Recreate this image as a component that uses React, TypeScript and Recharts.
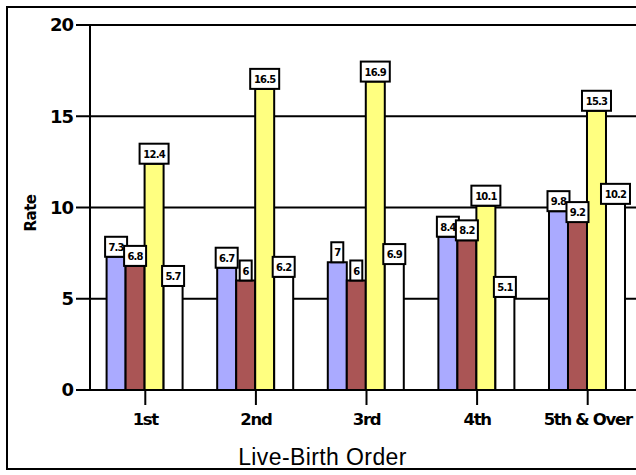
import React from "react";
import { BarChart, Bar, XAxis, YAxis, CartesianGrid, LabelList, Label } from "recharts";

const categories = ["1st", "2nd", "3rd", "4th", "5th & Over"];
const seriesA = [7.3, 6.7, 7, 8.4, 9.8];
const seriesB = [6.8, 6, 6, 8.2, 9.2];
const seriesC = [12.4, 16.5, 16.9, 10.1, 15.3];
const seriesD = [5.7, 6.2, 6.9, 5.1, 10.2];
const yTicks = [0, 5, 10, 15, 20];

const data = categories.map((order, i) => ({
  order,
  a: seriesA[i],
  b: seriesB[i],
  c: seriesC[i],
  d: seriesD[i],
}));

const FONT = "'Liberation Sans', Arial, sans-serif";
const HEAVY = "'DejaVu Sans', sans-serif";

// white boxed value tag sitting on top of each bar
const ValueTag = (props: any) => {
  const { x, y, width, value } = props;
  const text = String(value);
  const digits = text.replace(".", "").length;
  const w = digits * 7 + (text.includes(".") ? 3 : 0) + 5;
  const h = 20;
  const cx = x + width / 2;
  return (
    <g>
      <rect x={cx - w / 2} y={y - h} width={w} height={h} fill="#fff" stroke="#000" strokeWidth={2} />
      <text
        x={cx}
        y={y - h / 2 + 4}
        textAnchor="middle"
        fontFamily={HEAVY}
        fontWeight="bold"
        fontSize={10}
        letterSpacing={-0.8}
        fill="#000"
      >
        {text}
      </text>
    </g>
  );
};

const RateLabel = () => (
  <text
    x={31}
    y={213}
    transform="rotate(-90 31 213)"
    textAnchor="middle"
    dominantBaseline="central"
    fontFamily={HEAVY}
    fontWeight="bold"
    fontSize={15}
    letterSpacing={-0.5}
    fill="#000"
  >
    Rate
  </text>
);

const bars = [
  { key: "a", fill: "#AAAAFF" },
  { key: "b", fill: "#AA5555" },
  { key: "c", fill: "#FFFF80" },
  { key: "d", fill: "#FFFFFF" },
];

export default function App() {
  return (
    <div
      style={{
        position: "absolute",
        left: 0,
        top: 0,
        width: 636,
        height: 475,
        overflow: "hidden",
        background: "#fff",
      }}
    >
      <div
        style={{
          position: "absolute",
          left: 6,
          top: 6,
          width: 700,
          height: 460,
          border: "2px solid #000",
        }}
      />
      <div style={{ position: "absolute", left: 0, top: 0 }}>
        <BarChart
          width={643}
          height={475}
          data={data}
          margin={{ top: 25, right: 0, left: 0, bottom: 0 }}
          barCategoryGap="15%"
          barGap={0}
        >
          <CartesianGrid vertical={false} stroke="#000" strokeWidth={2} />
          <XAxis
            dataKey="order"
            height={85}
            axisLine={{ stroke: "#000", strokeWidth: 2 }}
            tickLine={{ stroke: "#000", strokeWidth: 2 }}
            tickSize={15}
            tickMargin={8}
            tick={{ fill: "#000", fontFamily: HEAVY, fontWeight: "bold", fontSize: 16.5, letterSpacing: -1.3 }}
            interval={0}
          >
            <Label
              value="Live-Birth Order"
              position="insideBottom"
              offset={10}
              dx={-44}
              style={{ fill: "#000", fontFamily: FONT, fontSize: 23, letterSpacing: 0.4 }}
            />
          </XAxis>
          <YAxis
            width={90}
            domain={[0, 20]}
            ticks={yTicks}
            axisLine={{ stroke: "#000", strokeWidth: 2 }}
            tickLine={{ stroke: "#000", strokeWidth: 2 }}
            tickSize={14}
            tickMargin={3}
            tick={{ fill: "#000", fontFamily: HEAVY, fontWeight: "bold", fontSize: 18, letterSpacing: -1 }}
            label={<RateLabel />}
          />
          {bars.map((b) => (
            <Bar key={b.key} dataKey={b.key} fill={b.fill} stroke="#000" strokeWidth={2} isAnimationActive={false}>
              <LabelList dataKey={b.key} content={<ValueTag />} />
            </Bar>
          ))}
        </BarChart>
      </div>
    </div>
  );
}
